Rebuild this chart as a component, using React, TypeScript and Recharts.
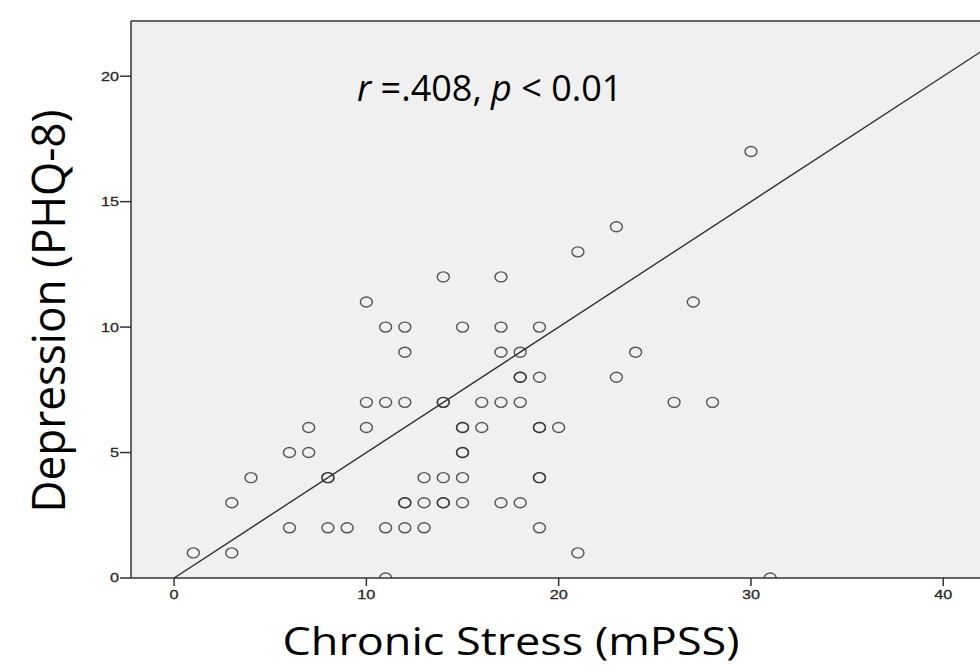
import { ScatterChart, Scatter, XAxis, YAxis, CartesianGrid, ReferenceLine } from 'recharts'

// chronic stress (mPSS) per participant
const stress = [
  1, 3, 3, 4, 6, 6, 7, 7, 8, 8, 8, 9, 10, 10, 10, 11, 11, 11, 11, 12, 12, 12, 12, 12, 12,
  13, 13, 13, 14, 14, 14, 14, 14, 14, 15, 15, 15, 15, 15, 15, 15, 16, 16, 17, 17, 17, 17, 17,
  18, 18, 18, 18, 18, 19, 19, 19, 19, 19, 19, 19, 20, 21, 21, 23, 23, 24, 26, 27, 28, 30, 31,
]
// depression (PHQ-8) per participant
const depression = [
  1, 3, 1, 4, 5, 2, 6, 5, 4, 4, 2, 2, 11, 7, 6, 10, 7, 2, 0, 10, 9, 7, 3, 3, 2,
  4, 3, 2, 12, 7, 7, 4, 3, 3, 10, 6, 6, 5, 5, 4, 3, 7, 6, 12, 10, 9, 7, 3,
  9, 8, 8, 7, 3, 10, 8, 6, 6, 4, 4, 2, 6, 13, 1, 14, 8, 9, 7, 11, 7, 17, 0,
]

const xTicks = [0, 10, 20, 30, 40]
const yTicks = [0, 5, 10, 15, 20]

// regression line end points
const fitX = [0, 42.4]
const fitY = [0, 21.2]

const data = stress.map((x, i) => ({ x, y: depression[i] }))

const X_MIN = -2.24
const X_MAX = 42.43
const Y_MAX = 22.2

const titleFont = '"Open Sans", "Noto Sans", sans-serif'
const tickFont = '"Liberation Sans", Arial, sans-serif'

const Ring = (props: any) => (
  <ellipse
    cx={props.cx}
    cy={props.cy}
    rx={6}
    ry={5}
    fill='none'
    stroke='#2e2e2e'
    strokeOpacity={0.8}
    strokeWidth={1.4}
  />
)

// the source image is a bit stretched sideways, so tick digits are drawn wider
const makeTick = (dy: string) => (props: any) => {
  const { x, y, payload, textAnchor } = props
  return (
    <g transform={`translate(${x},${y})`}>
      <text
        x={0}
        y={0}
        dy={dy}
        textAnchor={textAnchor}
        transform='scale(1.3,1)'
        fontSize={12.5}
        fontFamily={tickFont}
        stroke='#2a2a2a'
        strokeWidth={0.3}
        fill='#2a2a2a'
      >
        {payload.value}
      </text>
    </g>
  )
}

const xTitle = () => (
  <text
    x={511}
    y={655}
    textAnchor='middle'
    fontSize={38}
    textLength={457}
    lengthAdjust='spacingAndGlyphs'
    fontFamily={titleFont}
    fill='#000'
  >
    Chronic Stress (mPSS)
  </text>
)

const yTitle = () => (
  <text
    x={65}
    y={311}
    transform='rotate(-90 65 311)'
    textAnchor='middle'
    fontSize={46}
    textLength={403}
    lengthAdjust='spacingAndGlyphs'
    fontFamily={titleFont}
    fill='#000'
  >
    Depression (PHQ-8)
  </text>
)

const statLabel = () => (
  <text x={357} y={101} fontSize={36} fontFamily={titleFont} fill='#000'>
    <tspan fontStyle='italic'>r</tspan>
    <tspan> =.408, </tspan>
    <tspan fontStyle='italic'>p</tspan>
    <tspan> &lt; 0.01</tspan>
  </text>
)

export default function App() {
  return (
    <div style={{ position: 'absolute', left: 0, top: 0, width: 980, height: 670, overflow: 'hidden', background: '#fff' }}>
      <ScatterChart width={1000} height={670} margin={{ top: 21, right: 10, left: 0, bottom: 0 }}>
        <CartesianGrid horizontal={false} vertical={false} fill='#f0f0f0' />
        <XAxis
          type='number'
          dataKey='x'
          domain={[X_MIN, X_MAX]}
          ticks={xTicks}
          allowDataOverflow
          height={92}
          stroke='#333'
          strokeWidth={1.5}
          tickSize={8}
          tickMargin={4}
          tick={makeTick('0.71em')}
          label={xTitle}
        />
        <YAxis
          type='number'
          dataKey='y'
          domain={[0, Y_MAX]}
          ticks={yTicks}
          allowDataOverflow
          width={131}
          stroke='#333'
          strokeWidth={1.5}
          tickSize={11}
          tickMargin={1}
          tick={makeTick('0.355em')}
          label={yTitle}
        />
        <ReferenceLine y={Y_MAX} stroke='#333' strokeWidth={1.5} label={statLabel} />
        <ReferenceLine
          segment={[
            { x: fitX[0], y: fitY[0] },
            { x: fitX[1], y: fitY[1] },
          ]}
          stroke='#333'
          strokeWidth={1.4}
          ifOverflow='hidden'
        />
        <Scatter data={data} shape={Ring} isAnimationActive={false} />
      </ScatterChart>
    </div>
  )
}
